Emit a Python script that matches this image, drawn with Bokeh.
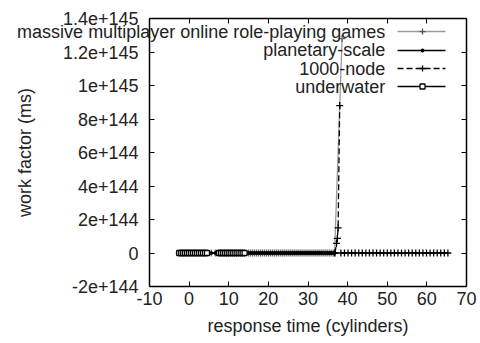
from bokeh.plotting import figure
from bokeh.models import Range1d, FixedTicker, LinearAxis, Label
from bokeh.embed import file_html
from bokeh.resources import INLINE

# ---------------- data ----------------
x_tick_values = [-10, 0, 10, 20, 30, 40, 50, 60, 70]
x_tick_labels = ["-10", "0", "10", "20", "30", "40", "50", "60", "70"]
y_tick_values = [-2e144, 0, 2e144, 4e144, 6e144, 8e144, 1e145, 1.2e145, 1.4e145]
y_tick_labels = ["-2e+144", "0", "2e+144", "4e+144", "6e+144", "8e+144",
                 "1e+145", "1.2e+145", "1.4e+145"]

# dense band of points sitting on zero (left part)
band_x = [-2.5, -2, -1.5, -1, -0.5, 0, 0.5, 1, 1.5, 2, 2.5, 3, 3.5, 4, 4.5,
          5.6, 6.6,
          7.5, 8, 8.5, 9, 9.5, 10, 10.5, 11, 11.5, 12, 12.5, 13, 13.5, 14,
          15, 15.5, 16, 16.5, 17, 17.5, 18, 18.5, 19, 19.5, 20, 20.5, 21, 21.5,
          22, 22.5, 23, 23.5, 24, 24.5, 25, 25.5, 26, 26.5, 27, 27.5, 28, 28.5,
          29, 29.5, 30, 30.5, 31, 31.5, 32, 32.5, 33, 33.5, 34, 34.5, 35, 35.5,
          36, 36.5]
band_y = [0, 0, 0, 0, 0, 0, 0, 0, 0, 0, 0, 0, 0, 0, 0,
          0, 0,
          0, 0, 0, 0, 0, 0, 0, 0, 0, 0, 0, 0, 0, 0,
          0, 0, 0, 0, 0, 0, 0, 0, 0, 0, 0, 0, 0, 0,
          0, 0, 0, 0, 0, 0, 0, 0, 0, 0, 0, 0, 0, 0,
          0, 0, 0, 0, 0, 0, 0, 0, 0, 0, 0, 0, 0, 0,
          0, 0]

mmorpg_x = band_x + [36.7, 38.6]
mmorpg_y = band_y + [0, 1.28e145]

planetary_x = band_x + [36.7]
planetary_y = band_y + [0]

node_x = [36.8, 37.2, 37.4, 37.6, 38.0, float("nan"),
          38.3, 39.2, 40.1, 41, 41.9, 42.8, 43.7, 44.6, 45.5, 46.4, 47.3, 48.2,
          49.1, 50, 50.9, 51.8, 52.7, 53.6, 54.5, 55.4, 56.3, 57.2, 58.1, 59,
          59.9, 60.8, 61.7, 62.6, 63.5, 64.4, 65.3]
node_y = [0, 0.57e144, 0.87e144, 1.5e144, 8.8e144, float("nan"),
          0, 0, 0, 0, 0, 0, 0, 0, 0, 0, 0, 0,
          0, 0, 0, 0, 0, 0, 0, 0, 0, 0, 0, 0,
          0, 0, 0, 0, 0, 0, 0]

underwater_x = [-2.5, -2, -1.5, -1, -0.5, 0, 0.5, 1, 1.5, 2, 2.5, 3, 3.5, 4, 4.5,
                7.5, 8, 8.5, 9, 9.5, 10, 10.5, 11, 11.5, 12, 12.5, 13, 13.5, 14]
underwater_y = [0, 0, 0, 0, 0, 0, 0, 0, 0, 0, 0, 0, 0, 0, 0,
                0, 0, 0, 0, 0, 0, 0, 0, 0, 0, 0, 0, 0, 0]

series_names = ["massive multiplayer online role-playing games",
                "planetary-scale", "1000-node", "underwater"]

# ---------------- figure ----------------
FONT = "Liberation Sans"
TXT = "#222222"
FS = "18px"

# The plotting frame fills the whole canvas; the axes are pinned at the
# data limits (-10..70, -2e144..1.4e145) so that they draw the visible box.
X0, X1 = -10, 70
Y0, Y1 = -2e144, 1.4e145
p = figure(width=480, height=343, output_backend="svg", toolbar_location=None,
           x_range=Range1d(-47.6, 73.53), y_range=Range1d(-5.403e144, 1.5075e145),
           min_border=0, x_axis_type=None, y_axis_type=None)
p.xgrid.visible = False
p.ygrid.visible = False
p.outline_line_color = None
p.background_fill_color = "white"
p.border_fill_color = "white"


def make_axis(ticks, labels, fixed, bounds, show_labels=True):
    ax = LinearAxis(fixed_location=fixed, bounds=bounds)
    ax.ticker = FixedTicker(ticks=ticks)
    ax.major_label_overrides = {t: (l if show_labels else "") for t, l in zip(ticks, labels)}
    ax.major_tick_in = 5
    ax.major_tick_out = 0
    ax.minor_tick_line_color = None
    ax.axis_line_color = "black"
    ax.axis_line_width = 1.5
    ax.major_tick_line_color = "black"
    ax.major_tick_line_width = 1
    ax.major_label_text_font = FONT
    ax.major_label_text_color = TXT
    ax.major_label_text_font_size = FS
    ax.axis_label_text_font = FONT
    ax.axis_label_text_color = TXT
    ax.axis_label_text_font_size = FS
    ax.axis_label_text_font_style = "normal"
    return ax


xa = make_axis(x_tick_values, x_tick_labels, Y0, (X0, X1))
xa.axis_label = "response time (cylinders)"
xa.major_label_standoff = 5
xa.axis_label_standoff = 8
p.add_layout(xa, "below")

ya = make_axis(y_tick_values, y_tick_labels, X0, (Y0, Y1))
ya.axis_label = "work factor (ms)"
ya.major_label_standoff = 11
ya.axis_label_standoff = 25
p.add_layout(ya, "left")

top_ax = make_axis(x_tick_values, x_tick_labels, Y1, (X0, X1), show_labels=False)
right_ax = make_axis(y_tick_values, y_tick_labels, X1, (Y0, Y1), show_labels=False)
p.add_layout(top_ax, "above")
p.add_layout(right_ax, "right")

GRAY = "#9a9a9a"
# series
p.line(mmorpg_x, mmorpg_y, line_color=GRAY, line_width=1.3)
p.scatter(mmorpg_x, mmorpg_y, marker="cross", size=7, line_color="#666666", line_width=1.3)

p.line(planetary_x, planetary_y, line_color="black", line_width=1.5)
p.scatter(planetary_x, planetary_y, marker="circle", size=3, line_color="black", fill_color="black")

p.line(node_x, node_y, line_color="black", line_width=1.3, line_dash="6 3")
p.scatter(node_x, node_y, marker="cross", size=7, line_color="black", line_width=1.3)

p.line(underwater_x, underwater_y, line_color="black", line_width=1.5)
p.scatter(underwater_x, underwater_y, marker="square", size=5, line_color="black", fill_color="white", line_width=1.3)

# ---------------- gnuplot-style legend (text right-aligned, sample on right) ----
leg_text_x = 49.5          # right edge of the texts (data units)
leg_sample_x0 = 52.6
leg_sample_x1 = 64.7
leg_marker_x = 58.9
leg_rows_y = [1.322e145, 1.209e145, 1.1015e145, 0.994e145]

styles = [
    dict(color=GRAY, dash="solid", marker="cross", mcolor="#555555", size=6, fill="#555555"),
    dict(color="black", dash="solid", marker="circle", mcolor="black", size=2.5, fill="black"),
    dict(color="black", dash="6 3", marker="cross", mcolor="black", size=6, fill="black"),
    dict(color="black", dash="solid", marker="square", mcolor="black", size=5, fill="white"),
]
for name, ry, st in zip(series_names, leg_rows_y, styles):
    p.add_layout(Label(x=leg_text_x, y=ry, text=name, text_align="right",
                       text_baseline="middle", text_font=FONT,
                       text_font_size=FS, text_color=TXT))
    p.line([leg_sample_x0, leg_sample_x1], [ry, ry], line_color=st["color"],
           line_width=1.5, line_dash=st["dash"])
    p.scatter([leg_marker_x], [ry], marker=st["marker"], size=st["size"],
              line_color=st["mcolor"], fill_color=st["fill"], line_width=1.3)

open("out.html", "w").write(file_html(p, INLINE))
